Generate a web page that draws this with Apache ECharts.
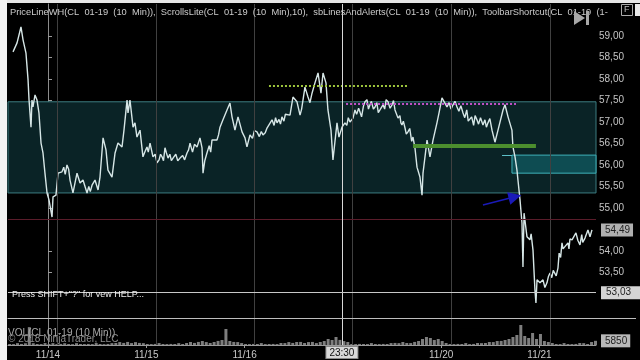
<!DOCTYPE html>
<html><head><meta charset="utf-8">
<script src="https://cdn.jsdelivr.net/npm/echarts@6/dist/echarts.min.js"></script>
<style>html,body{margin:0;padding:0;background:#000;}#c{width:640px;height:360px;}</style>
</head><body><div id="c"></div>
<script>
// ---------- data ----------
// x unit: trading-day index (0 = 11/14 session label, 1 = 11/15, ...)
const dayLabels = ['11/14','11/15','11/16','11/19','11/20','11/21'];
const dayLabelIdx = [0,1,2,4,5];
const dayBreaks = [0.092,1.099,2.096,3.103,4.100,5.107];
const priceTicks = [53.5,54,55,55.5,56,56.5,57,57.5,58,58.5,59];

// [time, price]
const pricePoints = [
[-0.356,58.63],[-0.315,58.84],[-0.275,59.21],[-0.254,58.91],[-0.224,58.60],[-0.203,57.98],[-0.193,57.51],[-0.173,56.88],[-0.163,57.51],[-0.153,57.35],
[-0.132,57.63],[-0.112,57.51],[-0.092,57.21],[-0.071,56.51],[-0.051,56.28],[-0.031,55.81],[-0.010,55.35],[0.010,55.19],[0.041,54.79],[0.051,55.26],
[0.081,55.30],[0.102,55.81],[0.142,55.84],[0.16,55.95],[0.175,55.78],[0.193,56.00],[0.21,55.90],[0.224,55.65],[0.254,55.35],[0.295,55.81],[0.326,55.58],[0.356,55.65],[0.397,55.35],[0.415,55.50],[0.43,55.38],
[0.448,55.53],[0.478,55.65],[0.509,55.42],[0.529,55.72],[0.560,56.63],[0.590,56.35],[0.610,55.88],[0.651,55.72],[0.682,56.28],[0.712,56.51],
[0.753,56.42],[0.773,56.81],[0.804,57.51],[0.814,57.21],[0.834,57.51],[0.865,56.88],[0.885,56.98],[0.905,56.65],[0.936,56.81],[0.966,56.19],[0.985,56.30],
[1.007,56.42],[1.02,56.30],[1.038,56.51],[1.068,56.19],[1.09,56.25],[1.109,56.05],[1.13,56.12],[1.145,56.25],[1.160,56.19],[1.175,56.10],[1.190,56.40],[1.205,56.28],[1.221,56.16],[1.24,56.25],[1.255,56.10],[1.272,56.16],[1.30,56.25],[1.32,56.10],[1.343,56.16],[1.37,56.22],[1.39,56.12],[1.414,56.28],[1.43,56.35],
[1.445,56.51],[1.47,56.30],[1.49,56.48],[1.516,56.42],[1.546,56.63],[1.567,56.40],[1.577,55.81],[1.595,56.10],[1.617,56.28],[1.64,56.45],[1.655,56.30],[1.668,56.58],[1.719,56.58],[1.735,56.70],[1.750,56.88],[1.780,57.05],
[1.821,57.28],[1.851,57.44],[1.872,57.12],[1.902,56.81],[1.933,57.12],[1.974,56.77],[2.004,56.63],[2.024,56.42],[2.055,56.70],[2.08,56.62],[2.10,56.80],[2.126,56.77],[2.15,56.66],[2.17,56.78],
[2.187,56.70],[2.21,56.75],[2.228,56.86],[2.279,57.05],[2.30,56.92],[2.315,57.10],[2.330,56.98],[2.35,57.06],[2.365,56.95],[2.380,57.12],[2.40,57.02],[2.415,57.18],[2.431,57.21],[2.462,57.16],[2.492,57.58],[2.533,57.47],[2.564,57.16],[2.58,57.30],
[2.594,57.51],[2.614,57.81],[2.645,57.58],[2.665,57.45],[2.686,57.67],[2.716,57.91],[2.747,58.14],[2.777,57.67],[2.798,58.14],[2.828,57.91],[2.848,57.28],
[2.879,56.81],[2.899,56.12],[2.940,56.98],[2.960,56.65],[2.991,56.88],[3.021,56.98],[3.04,56.92],[3.055,57.10],[3.072,57.00],[3.103,57.09],[3.123,57.28],[3.14,57.18],[3.16,57.32],[3.174,57.23],[3.19,57.12],[3.21,57.38],
[3.225,57.47],[3.245,57.52],[3.26,57.30],[3.276,57.40],[3.29,57.48],[3.31,57.30],[3.327,57.35],[3.345,57.45],[3.36,57.22],[3.377,57.28],[3.408,57.40],[3.425,57.30],[3.44,57.52],[3.459,57.47],[3.48,57.32],[3.500,57.40],[3.515,57.50],[3.530,57.28],[3.561,57.09],[3.58,57.15],[3.59,56.98],[3.601,56.93],[3.615,57.02],
[3.632,56.86],[3.645,56.72],[3.662,56.77],[3.68,56.85],[3.70,56.55],[3.713,56.65],[3.733,56.40],[3.754,55.95],[3.784,55.72],[3.805,55.30],[3.815,55.81],[3.856,56.58],[3.886,56.19],
[3.917,56.58],[3.957,56.98],[3.978,57.21],[4.008,57.56],[4.059,57.35],[4.08,57.45],[4.10,57.30],[4.120,57.40],[4.14,57.48],[4.161,57.35],[4.18,57.25],[4.20,57.38],[4.222,57.21],[4.24,57.10],[4.26,57.28],[4.275,57.02],[4.293,56.98],[4.31,57.12],[4.33,56.92],[4.345,57.15],[4.364,57.05],[4.38,56.95],[4.40,57.10],
[4.425,56.93],[4.445,57.05],[4.46,56.88],[4.476,56.98],[4.495,57.08],[4.517,56.81],[4.547,56.53],[4.578,56.81],[4.629,57.28],[4.649,57.40],[4.680,57.12],[4.720,56.81],[4.730,56.42],
[4.751,56.19],[4.771,55.88],[4.781,55.65],[4.802,55.19],[4.822,54.65],[4.832,53.63],[4.843,54.88],[4.873,54.33],[4.903,54.26],[4.915,54.40],[4.934,54.02],
[4.954,53.09],[4.964,52.79],[4.975,53.33],[5.005,53.26],[5.036,53.33],[5.055,53.15],[5.076,53.26],[5.09,53.40],[5.107,53.49],[5.125,53.38],[5.14,53.55],[5.158,53.56],[5.17,53.42],[5.188,53.60],[5.20,53.95],[5.215,53.85],[5.229,54.19],
[5.24,54.05],[5.259,54.09],[5.290,54.19],[5.30,54.05],[5.31,54.28],[5.331,54.26],[5.35,54.30],[5.371,54.42],[5.39,54.25],[5.412,54.14],[5.43,54.38],[5.44,54.20],[5.463,54.30],[5.493,54.49],[5.514,54.33],[5.534,54.49]];

// volume bars: one value per 0.04 trading-day slot starting at volStart
const volStart = -0.39;
const volStep = 0.04;
const volumes = [
1400,1300,2600,1500,2400,
25000,
2500,1400,1300,2700,
1400,2600,1300,1500,2500,1400,1200,2600,1400,1300,
1500,1300,2700,1400,1200,1500,2600,
2800,4100,2900,4300,2700,4000,2900,2600,
1400,1300,1500,2700,1400,1300,1500,1400,2600,1400,
2800,4200,2900,4300,5600,4100,2800,4200,5700,7000,
22400,
5600,4300,4100,2700,
1400,1300,1500,1400,2700,1300,1400,1500,1300,2800,
2700,4100,2900,4200,4300,2800,4100,4300,2700,4200,
5600,8400,7000,11200,7100,5500,4200,
1400,1300,1500,1400,1300,2700,1400,1300,1500,1400,
2700,2900,2600,4200,2800,2700,4300,5600,
8400,11200,9800,7000,8400,5600,2800,
1400,1300,1500,1400,2700,1300,1500,2800,2600,
2800,4200,4100,5600,5700,7000,8400,
11200,14000,28000,12600,9800,16800,8400,15400,5600,4200,
2800,1400,1300,2700,1400,1300,1500,2800,2600,1400,4200,5850];

const zoneBig = [57.47, 55.35];
const zoneSmall = [56.23, 55.81];
const zoneSmallStart = 4.72;
const zoneSmallLineStart = 4.619;
const greenLevel = 56.44, greenSpan = [3.713, 4.964];
const yellowLevel = 57.84, yellowSpan = [2.248, 3.652];
const magentaLevel = 57.42, magentaSpan = [3.032, 4.761];
const redLevel = 54.74;
const lowLevel = 53.03;
const lastPrice = 54.49;
const lastVolume = 5850;
const crosshairT = 2.991, crosshairLabel = '23:30';
const arrowFrom = [4.425, 55.07], arrowTo = [4.751, 55.26];

const xMin = -0.407, xMax = 5.575;
const yMin = 52.442, yMax = 59.744;
const volMax = 37800;

// ---------- chart ----------
const fmt = v => v.toFixed(2).replace('.', ',');
const volData = volumes.map((v, i) => [volStart + i * volStep, v]);

const chart = echarts.init(document.getElementById('c'), null, {renderer: 'canvas'});
const FONT = 'Liberation Sans, Arial, sans-serif';
const noLabel = {show: false};
const hiddenLine = {color: 'rgba(0,0,0,0)', width: 0};

chart.setOption({
  backgroundColor: '#000',
  animation: false,
  grid: [
    {left: 8, right: 44, top: 4, bottom: 42},
    {left: 8, right: 44, top: 318, bottom: 15}
  ],
  xAxis: [
    {gridIndex: 0, type: 'value', min: xMin, max: xMax,
     axisLine: {show: true, lineStyle: {color: '#bdbdbd'}}, axisTick: {show: false},
     axisLabel: {show: false}, splitLine: {show: false}},
    {gridIndex: 1, type: 'value', min: xMin, max: xMax,
     axisLine: {show: true, lineStyle: {color: '#9a9a9a'}},
     axisTick: {show: true, customValues: dayLabelIdx, length: 3, lineStyle: {color: '#9a9a9a'}},
     axisLabel: {show: true, customValues: dayLabelIdx, formatter: v => dayLabels[Math.round(v)],
       color: '#c8c8c8', fontSize: 10, fontFamily: FONT, margin: 5},
     splitLine: {show: false}}
  ],
  yAxis: [
    {gridIndex: 0, type: 'value', position: 'right', min: yMin, max: yMax,
     axisLine: {show: true, lineStyle: {color: '#8c8c8c'}},
     axisTick: {show: true, customValues: priceTicks, length: 4, lineStyle: {color: '#9a9a9a'}},
     axisLabel: {show: true, customValues: priceTicks, formatter: fmt, color: '#c4c4c4',
       fontSize: 10, fontFamily: FONT, margin: 3},
     splitLine: {show: false}},
    {gridIndex: 1, type: 'value', position: 'right', min: 0, max: volMax,
     axisLine: {show: true, lineStyle: {color: '#8c8c8c'}},
     axisTick: {show: false}, axisLabel: {show: false}, splitLine: {show: false}}
  ],
  series: [
    { // zones
      type: 'line', xAxisIndex: 0, yAxisIndex: 0, data: [], z: 1, silent: true,
      markArea: {silent: true, label: noLabel, data: [
        [{yAxis: zoneBig[0], itemStyle: {color: '#0a2326', borderColor: '#3c7c80', borderWidth: 1}},
         {yAxis: zoneBig[1]}],
        [{coord: [zoneSmallStart, zoneSmall[0]], itemStyle: {color: '#0e4c52', borderColor: '#3fb0b8', borderWidth: 1}},
         {coord: [xMax, zoneSmall[1]]}]
      ]}
    },
    { // grid lines & levels
      type: 'line', xAxisIndex: 0, yAxisIndex: 0, data: [], z: 2, silent: true,
      markLine: {silent: true, symbol: ['none', 'none'], label: noLabel, animation: false,
        data: [
          ...dayBreaks.map(t => ({xAxis: t, lineStyle: {color: '#404040', width: 1, type: 'solid'}})),
          {yAxis: redLevel, lineStyle: {color: '#5a1c2a', width: 1, type: 'solid'}},
          [{coord: [yellowSpan[0], yellowLevel], lineStyle: {color: '#9cc43c', width: 2, type: [2, 2]}},
           {coord: [yellowSpan[1], yellowLevel]}],
          [{coord: [magentaSpan[0], magentaLevel], lineStyle: {color: '#c050c8', width: 2, type: [2, 2]}},
           {coord: [magentaSpan[1], magentaLevel]}],
          [{coord: [greenSpan[0], greenLevel], lineStyle: {color: '#4c8e2e', width: 4, type: 'solid'}},
           {coord: [greenSpan[1], greenLevel]}],
          [{coord: [zoneSmallLineStart, zoneSmall[0]], lineStyle: {color: '#5cc0c8', width: 1, type: 'solid'}},
           {coord: [zoneSmallStart, zoneSmall[0]]}],
          [{coord: arrowFrom, symbol: 'none', lineStyle: {color: '#1a1ab8', width: 1.5, type: 'solid'}},
           {coord: arrowTo, symbol: 'triangle', symbolSize: 13, itemStyle: {color: '#1c22ee'}}],
          {xAxis: crosshairT, lineStyle: {color: '#d8d8d8', width: 1, type: 'solid'}}
        ]}
    },
    { // price
      type: 'line', xAxisIndex: 0, yAxisIndex: 0, data: pricePoints, z: 4,
      showSymbol: false, silent: true,
      lineStyle: {color: '#d6e6e6', width: 1.4},
      markLine: {silent: true, symbol: ['none', 'none'], animation: false,
        data: [
          {yAxis: lowLevel, lineStyle: {color: '#c8c8c8', width: 1, type: 'solid'},
           label: {show: true, position: 'end', formatter: fmt(lowLevel), backgroundColor: '#d4d4d4',
             color: '#222', fontSize: 10, fontFamily: FONT, padding: [2, 10, 1, 5], distance: 5}},
          {yAxis: lastPrice, lineStyle: hiddenLine,
           label: {show: true, position: 'end', formatter: fmt(lastPrice), backgroundColor: '#b0b0b0',
             color: '#222', fontSize: 10, fontFamily: FONT, padding: [2, 3, 1, 4], distance: 5}}
        ]}
    },
    { // volume
      type: 'bar', xAxisIndex: 1, yAxisIndex: 1, data: volData, barWidth: 3, z: 3,
      silent: true, itemStyle: {color: '#7e7e7e'},
      markLine: {silent: true, symbol: ['none', 'none'], animation: false,
        data: [
          ...dayBreaks.map(t => ({xAxis: t, lineStyle: {color: '#404040', width: 1, type: 'solid'}, label: noLabel})),
          {xAxis: crosshairT, lineStyle: {color: '#d8d8d8', width: 1, type: 'solid'},
           label: {show: true, position: 'start', formatter: crosshairLabel, backgroundColor: '#d8d8d8',
             borderColor: '#888', borderWidth: 1, color: '#111', fontSize: 10, fontFamily: FONT,
             padding: [1, 3, 0, 3], distance: 2}},
          {yAxis: lastVolume, lineStyle: hiddenLine,
           label: {show: true, position: 'end', formatter: String(lastVolume), backgroundColor: '#b8b8b8',
             color: '#222', fontSize: 10, fontFamily: FONT, padding: [2, 3, 1, 4], distance: 5}}
        ]}
    }
  ],
  graphic: [
    {type: 'rect', shape: {x: 0, y: 0, width: 640, height: 3}, style: {fill: '#e6e6e6'}, z: 100},
    {type: 'rect', shape: {x: 0, y: 0, width: 7, height: 360}, style: {fill: '#f2f2f2'}, z: 100},
    {type: 'line', shape: {x1: 8, y1: 318.5, x2: 636, y2: 318.5}, style: {stroke: '#bdbdbd', lineWidth: 1}, z: 90},
    {type: 'text', x: 10, y: 8, z: 100, style: {
      text: 'PriceLineWH(CL  01-19  (10  Min)),  ScrollsLite(CL  01-19  (10  Min),10),  sbLinesAndAlerts(CL  01-19  (10  Min)),  ToolbarShortcut(CL  01-19  (1-',
      fill: '#cccccc', font: '9.3px ' + FONT}},
    {type: 'polygon', shape: {points: [[574, 11], [585, 18], [574, 25]]}, style: {fill: '#a8a8a8'}, z: 101},
    {type: 'rect', shape: {x: 586, y: 11, width: 3, height: 14}, style: {fill: '#a8a8a8'}, z: 101},
    {type: 'rect', shape: {x: 621.5, y: 4.5, width: 11, height: 11}, style: {fill: 'none', stroke: '#aaa'}, z: 101},
    {type: 'text', x: 624, y: 5, z: 101, style: {text: 'F', fill: '#bbb', font: '9px ' + FONT}},
    {type: 'rect', shape: {x: 635, y: 4, width: 5, height: 12}, style: {fill: '#e8e8e8'}, z: 101},
    {type: 'text', x: 12, y: 290, z: 100, style: {text: 'Press SHIFT+"?" for vew HELP...', fill: '#f0f0f0', font: '9px ' + FONT}},
    {type: 'text', x: 8, y: 328, z: 100, style: {text: 'VOL(CL 01-19 (10 Min))', fill: '#a8a8a8', font: '10px ' + FONT}},
    {type: 'text', x: 8, y: 334, z: 100, style: {text: '\u00a9 2018 NinjaTrader, LLC', fill: '#8c8c8c', font: '10px ' + FONT}}
  ]
});
</script>
</body></html>
